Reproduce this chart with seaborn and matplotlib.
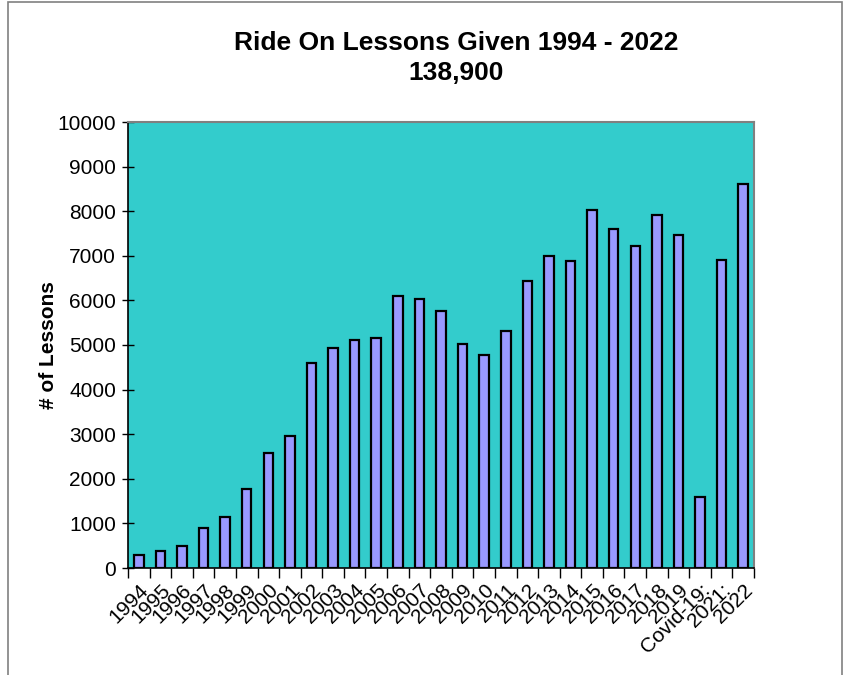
import numpy as np
import matplotlib
matplotlib.use("Agg")
import matplotlib.pyplot as plt
import seaborn as sns
from matplotlib.patches import Rectangle
from matplotlib.ticker import FixedLocator

# data
years = ['1994', '1995', '1996', '1997', '1998', '1999', '2000', '2001', '2002', '2003',
         '2004', '2005', '2006', '2007', '2008', '2009', '2010', '2011', '2012', '2013',
         '2014', '2015', '2016', '2017', '2018', '2019', 'Covid-19:', '2021:', '2022']
lessons = [300, 370, 500, 890, 1140, 1780, 2570, 2970, 4600, 4940,
           5120, 5150, 6100, 6040, 5760, 5020, 4780, 5320, 6430, 6990,
           6880, 8030, 7600, 7210, 7920, 7460, 1600, 6900, 8600]
title_lines = ['Ride On Lessons Given 1994 - 2022', '138,900']
y_ticks = list(range(0, 10001, 1000))

sns.set_style('white')
plt.rcParams['font.family'] = ['Liberation Sans', 'DejaVu Sans']
plt.rcParams['text.color'] = 'black'
plt.rcParams['axes.labelcolor'] = 'black'
plt.rcParams['xtick.color'] = 'black'
plt.rcParams['ytick.color'] = 'black'

fig = plt.figure(figsize=(8.49, 6.75), dpi=100)
ax = fig.add_axes([128 / 849, 1 - 568 / 675, 626 / 849, 446 / 675])
ax.set_facecolor('#33CCCC')

sns.barplot(x=years, y=lessons, color='#9999FF', saturation=1, width=0.44,
            edgecolor='black', linewidth=1.6, ax=ax)

ax.set_xlim(-0.5, len(years) - 0.5)
ax.set_ylim(0, 10000)
ax.set_yticks(y_ticks)
ax.set_yticklabels([str(t) for t in y_ticks], fontsize=15)
ax.tick_params(axis='y', left=True, direction='inout', length=9, width=1,
               color='black', pad=4)

# category labels without ticks, ticks between categories like the original
ax.set_xticks(range(len(years)))
ax.set_xticklabels(years, rotation=45, ha='right', rotation_mode='anchor', fontsize=15)
ax.tick_params(axis='x', which='major', bottom=True, length=0, pad=9)
ax.xaxis.set_minor_locator(FixedLocator(np.arange(-0.5, len(years), 1.0)))
ax.tick_params(axis='x', which='minor', bottom=True, direction='out', length=7,
               width=1, color='black')

ax.set_xlabel('')
ax.set_ylabel('# of Lessons', fontsize=15, fontweight='bold', labelpad=0)

for side in ['left', 'bottom']:
    ax.spines[side].set_color('black')
    ax.spines[side].set_linewidth(1.2)
for side in ['top', 'right']:
    ax.spines[side].set_color('#808080')
    ax.spines[side].set_linewidth(1.5)
    ax.spines[side].set_visible(True)

fig.text(456 / 849, 1 - 43 / 675, title_lines[0], ha='center', va='center',
         fontsize=19, fontweight='bold')
fig.text(456 / 849, 1 - 73 / 675, title_lines[1], ha='center', va='center',
         fontsize=19, fontweight='bold')

# outer chart frame
fig.patches.append(Rectangle((8 / 849, -0.02), 834 / 849, 1 - 2 / 675 + 0.02,
                             transform=fig.transFigure, fill=False,
                             edgecolor='#808080', linewidth=1.2))

fig.savefig('out.png', dpi=100)
